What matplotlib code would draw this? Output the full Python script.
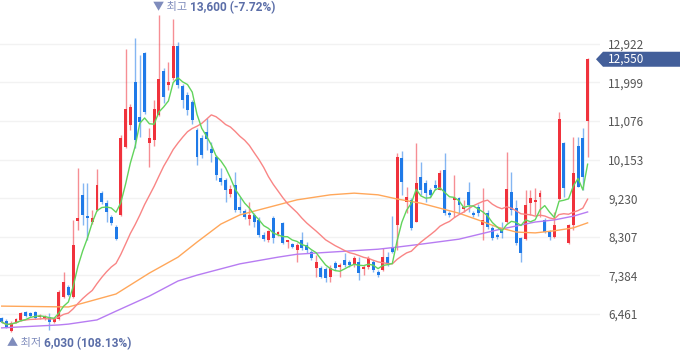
import matplotlib
matplotlib.use("Agg")
import matplotlib.pyplot as plt
from matplotlib.patches import Polygon
import numpy as np
import pandas as pd

plt.rcParams['font.family'] = ['Noto Sans CJK KR', 'DejaVu Sans']

# daily candles (KRW)
opens = [6370, 6290, 6060, 6270, 6320, 6510, 6490, 6510, 6390, 6370,
         6390, 6270, 6340, 6870, 7110, 6870, 8680, 9310, 8800, 8660,
         8950, 9350, 9110, 8780, 8540, 8830, 10450, 10980, 12010, 11170,
         12700, 10550, 10620, 11220, 12270, 11930, 12100, 12870, 11910, 11700,
         11530, 10860, 10670, 10810, 10410, 10210, 9710, 9660, 9330, 9540,
         9020, 8920, 8730, 8830, 8710, 8350, 8230, 8760, 8370, 8640,
         8180, 8130, 7990, 8230, 8110, 7940, 7560, 7560, 7540, 7350,
         7680, 7590, 7750, 7700, 7630, 7700, 7540, 7590, 7700, 7470,
         7510, 7820, 8060, 8590, 10190, 9140, 9190, 8660, 9740, 9590,
         9430, 9540, 9430, 9900, 8880, 9190, 9230, 8970, 9380, 8880,
         9020, 8590, 8880, 8520, 8350, 8520, 8660, 9380, 8990, 8280,
         8250, 9110, 9140, 9260, 8710, 8420, 8300, 9210, 10550, 8160,
         8590, 10480, 10670, 11070]
highs = [6390, 6340, 6290, 6370, 6510, 6530, 6510, 6530, 6460, 6440,
         6490, 6370, 7040, 7470, 7150, 8710, 9950, 9590, 9590, 8950,
         9930, 9400, 9190, 8830, 8590, 10740, 12800, 11480, 13060, 12650,
         12720, 10910, 11580, 13600, 12340, 12480, 13510, 12960, 11960, 11770,
         11580, 10910, 10740, 11150, 10570, 10260, 9950, 9710, 9540, 9860,
         9260, 8970, 9140, 8880, 8780, 8420, 8470, 8800, 8450, 8660,
         8230, 8160, 8160, 8420, 8180, 7990, 7870, 7610, 7590, 7630,
         7730, 7680, 7920, 7750, 7850, 7820, 7630, 7850, 7750, 7510,
         8040, 7940, 8800, 10310, 10360, 9500, 9230, 10550, 10090, 9660,
         9470, 9660, 9900, 10310, 8920, 9780, 9260, 9190, 9620, 8920,
         9090, 9470, 8950, 8560, 8400, 8660, 10330, 9860, 9190, 8300,
         9430, 9430, 9470, 9430, 8760, 8470, 8900, 11280, 10570, 8610,
         10690, 10690, 10910, 12580]
lows = [6250, 6130, 6030, 6250, 6290, 6390, 6390, 6340, 6340, 6320,
        6080, 6250, 6320, 6840, 6890, 6840, 8470, 8590, 8230, 8610,
        8920, 9090, 8660, 8590, 8230, 8800, 10430, 10860, 10430, 10690,
        11240, 9980, 10480, 11190, 11500, 11820, 12050, 11860, 11390, 11220,
        11000, 10020, 10190, 10380, 10090, 9660, 9540, 9140, 9260, 8900,
        8880, 8730, 8590, 8540, 8300, 8210, 8180, 8160, 8330, 8130,
        8040, 8040, 7700, 7990, 7920, 7750, 7350, 7320, 7230, 7230,
        7510, 7350, 7590, 7590, 7590, 7270, 7390, 7540, 7470, 7350,
        7490, 7610, 7920, 7990, 9310, 8880, 8470, 8660, 9310, 9140,
        9260, 9430, 9430, 8830, 8780, 8780, 8880, 8900, 8900, 8780,
        8800, 8230, 8500, 8230, 8250, 8280, 8640, 8830, 8110, 7700,
        8230, 8830, 8830, 8780, 8400, 8230, 8280, 9190, 9260, 8130,
        8470, 9500, 9430, 10210]
closes = [6270, 6150, 6250, 6340, 6490, 6410, 6410, 6370, 6410, 6410,
          6270, 6340, 6990, 7230, 6920, 8110, 8760, 8830, 8760, 8760,
          9540, 9140, 8900, 8640, 8250, 10670, 11360, 11410, 10620, 11050,
          11290, 10670, 11360, 12080, 11650, 12010, 12870, 11930, 11580, 11340,
          11100, 10210, 10260, 10640, 10310, 9780, 9620, 9430, 9450, 8950,
          8950, 8780, 8830, 8660, 8350, 8250, 8450, 8280, 8420, 8160,
          8230, 8060, 8110, 8040, 7990, 7800, 7700, 7350, 7320, 7560,
          7560, 7630, 7630, 7630, 7800, 7440, 7590, 7800, 7510, 7390,
          7820, 7680, 7940, 10210, 9620, 9260, 8520, 9590, 9430, 9350,
          9310, 9470, 9830, 8880, 8830, 9230, 9070, 9020, 9070, 8830,
          8880, 8710, 8540, 8280, 8300, 8400, 9450, 8950, 8160, 7920,
          9070, 9230, 9190, 9350, 8420, 8300, 8590, 11120, 9470, 8590,
          9830, 9500, 9740, 12550]

# long moving averages (candle index, value)
ma60_idx = [0, 14, 17, 24, 31, 37, 41, 46, 50, 54, 58, 62, 69, 74, 79, 83,
            88, 92, 96, 100, 104, 108, 112, 116, 120, 123]
ma60_val = [6650, 6630, 6720, 6940, 7440, 7820, 8180, 8610, 8830, 8950, 9070,
            9190, 9310, 9350, 9310, 9210, 9110, 8990, 8870, 8710, 8540, 8420,
            8400, 8450, 8520, 8640]
ma120_idx = [0, 12, 14, 20, 24, 31, 37, 41, 50, 58, 62, 69, 79, 83, 88, 96,
             104, 112, 116, 120, 123]
ma120_val = [6130, 6200, 6220, 6320, 6530, 6890, 7250, 7390, 7660, 7820, 7890,
             7940, 8010, 8060, 8130, 8250, 8470, 8660, 8710, 8800, 8900]

yticks = [6461, 7384, 8307, 9230, 10153, 11076, 11999, 12922]

UP = '#f0323c'
DOWN = '#1f7ae8'

df = pd.DataFrame({'o': opens, 'h': highs, 'l': lows, 'c': closes})
x = np.arange(len(df))
up = df.c >= df.o
colors = np.where(up, UP, DOWN)

fig = plt.figure(figsize=(6.8, 3.58), dpi=100)
ax = fig.add_axes([0, 0, 600 / 680, 1])

for t in yticks:
    ax.axhline(t, color='#f2f2f2', lw=1, zorder=0)

# candles
ax.vlines(x, df.l, df.h, colors=colors, lw=1, alpha=0.55, zorder=2)
body = np.maximum((df.c - df.o).abs(), 35)
ax.bar(x, body, bottom=np.minimum(df.o, df.c), width=0.62, color=colors,
       lw=0, zorder=3)

# moving averages
ma5 = df.c.rolling(5, min_periods=1).mean()
ma20 = df.c.rolling(20, min_periods=1).mean()
ax.plot(ma120_idx, ma120_val, color='#b77cf2', lw=1, zorder=4)
ax.plot(ma60_idx, ma60_val, color='#ffa75a', lw=1, zorder=4)
ax.plot(x, ma20, color='#f98585', lw=1, zorder=4)
ax.plot(x, ma5, color='#62d45c', lw=1, zorder=4)

ax.set_xlim(-0.36, 125.6)
ax.set_ylim(5410, 13966)
for s in ax.spines.values():
    s.set_visible(False)
ax.set_xticks([])
ax.yaxis.tick_right()
ax.set_yticks(yticks)
ax.set_yticklabels([f'{t:,}' for t in yticks])
ax.tick_params(axis='y', length=0, pad=6, labelsize=8.5, labelcolor='#555555')

# highest / lowest markers
ih = int(df.h.idxmax())
il = int(df.l.idxmin())
last = closes[-1]
hi, lo = highs[ih], lows[il]
t1 = ax.annotate('▼ 최고 ', xy=(ih, hi), xytext=(-6, 8), textcoords='offset pixels',
                 fontsize=8, color='#7f8cbc', va='center', ha='left')
ax.annotate(f'{hi:,} ({(last / hi - 1) * 100:.2f}%)', xy=(1, 0.5), xycoords=t1,
            va='center', ha='left', fontsize=8.6, color='#5b6ea8', fontweight='bold',
            family=['Roboto', 'DejaVu Sans'])
t2 = ax.annotate('▲ 최저 ', xy=(il, lo), xytext=(-4, -11), textcoords='offset pixels',
                 fontsize=8, color='#7f8cbc', va='center', ha='left')
ax.annotate(f'{lo:,} ({(last / lo - 1) * 100:.2f}%)', xy=(1, 0.5), xycoords=t2,
            va='center', ha='left', fontsize=8.6, color='#5b6ea8', fontweight='bold',
            family=['Roboto', 'DejaVu Sans'])

# last price tag
fig.canvas.draw()
yd = ax.transData.transform((0, last))[1]
tag = Polygon([(596, yd), (603, yd + 7.5), (680, yd + 7.5), (680, yd - 7.5),
               (603, yd - 7.5)], closed=True, transform=None, fc='#435f9a',
              ec='none', zorder=5)
fig.patches.append(tag)
fig.text(608 / 680, yd / 358, f'{last:,}', va='center', ha='left',
         fontsize=8.5, color='white', zorder=6)

fig.savefig('out.png', dpi=100)
